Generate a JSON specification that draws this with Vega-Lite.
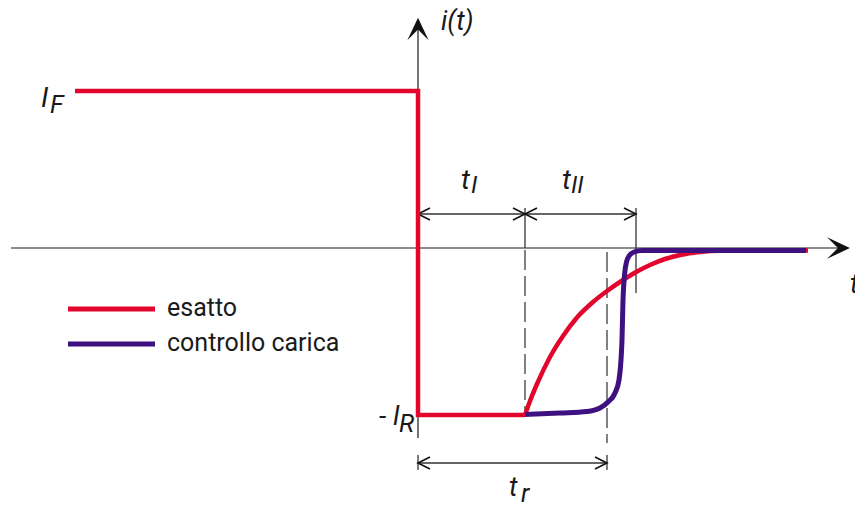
{
  "$schema": "https://vega.github.io/schema/vega-lite/v6.json",
  "width": 855,
  "height": 506,
  "autosize": {"type": "none"},
  "padding": 0,
  "background": "white",
  "config": {"view": {"stroke": null}},
  "datasets": {
    "axisLines": [
      {"t": -4.07, "i": 0, "t2": 4.27, "i2": 0},
      {"t": 0, "i": -1.9, "t2": 0, "i2": 2.2}
    ],
    "axisHeads": [
      {"axis": "x", "t": 4.205, "i": 0},
      {"axis": "y", "t": 0, "i": 2.19}
    ],
    "dimLines": [
      {"t": 0, "i": 0.34, "t2": 2.18, "i2": 0.34},
      {"t": 0, "i": -2.15, "t2": 1.89, "i2": -2.15},
      {"t": 1.07, "i": 0.4, "t2": 1.07, "i2": 0},
      {"t": 2.18, "i": 0.4, "t2": 2.18, "i2": -0.45},
      {"t": 0, "i": -2.07, "t2": 0, "i2": -2.22},
      {"t": 1.89, "i": -2.07, "t2": 1.89, "i2": -2.22}
    ],
    "dashLines": [
      {"t": 1.07, "i": -0.02, "t2": 1.07, "i2": -1.65},
      {"t": 1.89, "i": -0.04, "t2": 1.89, "i2": -1.95}
    ],
    "dimHeads": [
      {"dir": "left", "t": 0, "i": 0.34},
      {"dir": "right", "t": 1.07, "i": 0.34},
      {"dir": "left", "t": 1.07, "i": 0.34},
      {"dir": "right", "t": 2.18, "i": 0.34},
      {"dir": "left", "t": 0, "i": -2.15},
      {"dir": "right", "t": 1.89, "i": -2.15}
    ],
    "step": [
      {"series": "esatto", "order": 1, "t": -3.43, "i": 1.57},
      {"series": "esatto", "order": 2, "t": 0, "i": 1.57},
      {"series": "esatto", "order": 3, "t": 0, "i": -1.67},
      {"series": "esatto", "order": 4, "t": 1.07, "i": -1.67}
    ],
    "curves": [
      {"series": "esatto", "order": 1, "t": 1.07, "i": -1.67},
      {"series": "esatto", "order": 2, "t": 1.12, "i": -1.53},
      {"series": "esatto", "order": 3, "t": 1.19, "i": -1.36},
      {"series": "esatto", "order": 4, "t": 1.32, "i": -1.09},
      {"series": "esatto", "order": 5, "t": 1.45, "i": -0.88},
      {"series": "esatto", "order": 6, "t": 1.59, "i": -0.695},
      {"series": "esatto", "order": 7, "t": 1.75, "i": -0.54},
      {"series": "esatto", "order": 8, "t": 1.89, "i": -0.43},
      {"series": "esatto", "order": 9, "t": 2.05, "i": -0.32},
      {"series": "esatto", "order": 10, "t": 2.19, "i": -0.235},
      {"series": "esatto", "order": 11, "t": 2.32, "i": -0.17},
      {"series": "esatto", "order": 12, "t": 2.47, "i": -0.11},
      {"series": "esatto", "order": 13, "t": 2.62, "i": -0.07},
      {"series": "esatto", "order": 14, "t": 2.82, "i": -0.04},
      {"series": "esatto", "order": 15, "t": 3.02, "i": -0.028},
      {"series": "esatto", "order": 16, "t": 3.9, "i": -0.025},
      {"series": "controllo carica", "order": 1, "t": 1.07, "i": -1.665},
      {"series": "controllo carica", "order": 2, "t": 1.42, "i": -1.65},
      {"series": "controllo carica", "order": 3, "t": 1.69, "i": -1.635},
      {"series": "controllo carica", "order": 4, "t": 1.82, "i": -1.6},
      {"series": "controllo carica", "order": 5, "t": 1.9, "i": -1.54},
      {"series": "controllo carica", "order": 6, "t": 1.97, "i": -1.45},
      {"series": "controllo carica", "order": 7, "t": 2.01, "i": -1.32},
      {"series": "controllo carica", "order": 8, "t": 2.03, "i": -1.12},
      {"series": "controllo carica", "order": 9, "t": 2.04, "i": -0.92},
      {"series": "controllo carica", "order": 10, "t": 2.05, "i": -0.52},
      {"series": "controllo carica", "order": 11, "t": 2.065, "i": -0.27},
      {"series": "controllo carica", "order": 12, "t": 2.085, "i": -0.14},
      {"series": "controllo carica", "order": 13, "t": 2.11, "i": -0.08},
      {"series": "controllo carica", "order": 14, "t": 2.16, "i": -0.04},
      {"series": "controllo carica", "order": 15, "t": 2.24, "i": -0.025},
      {"series": "controllo carica", "order": 16, "t": 3.88, "i": -0.025}
    ],
    "legendRows": [
      {"series": "esatto", "t": -3.5, "t2": -2.63, "i": -0.61, "tl": -2.51, "il": -0.68},
      {"series": "controllo carica", "t": -3.5, "t2": -2.63, "i": -0.96, "tl": -2.51, "il": -1.03}
    ],
    "labels": [
      {"label": "I", "role": "main", "t": -3.77, "i": 1.41},
      {"label": "F", "role": "sub", "t": -3.68, "i": 1.35},
      {"label": "i(t)", "role": "medium", "t": 0.23, "i": 2.18},
      {"label": "t", "role": "main", "t": 0.43, "i": 0.59},
      {"label": "I", "role": "tiny", "t": 0.53, "i": 0.55},
      {"label": "t", "role": "main", "t": 1.44, "i": 0.59},
      {"label": "II", "role": "tiny", "t": 1.53, "i": 0.55},
      {"label": "- I", "role": "medium", "t": -0.39, "i": -1.77},
      {"label": "R", "role": "sub", "t": -0.19, "i": -1.84},
      {"label": "t", "role": "medium", "t": 0.91, "i": -2.48},
      {"label": "r", "role": "sub", "t": 1.03, "i": -2.54},
      {"label": "t", "role": "medium", "t": 4.32, "i": -0.45}
    ]
  },
  "encoding": {
    "x": {"field": "t", "type": "quantitative", "scale": {"domain": [-4.18, 4.37], "nice": false, "zero": false}, "axis": null},
    "y": {"field": "i", "type": "quantitative", "scale": {"domain": [-2.58, 2.48], "nice": false, "zero": false}, "axis": null}
  },
  "layer": [
    {
      "data": {"name": "axisLines"},
      "mark": {"type": "rule", "color": "#1a1a1a", "strokeWidth": 1.2},
      "encoding": {"x2": {"field": "t2"}, "y2": {"field": "i2"}}
    },
    {
      "data": {"name": "axisHeads"},
      "transform": [{"filter": "datum.axis === 'x'"}],
      "mark": {"type": "point", "shape": "M1,0 L-1,-0.95 L-0.05,0 L-1,0.95 Z", "filled": true, "color": "#111111", "opacity": 1, "size": 520, "angle": 0},
      "encoding": {}
    },
    {
      "data": {"name": "axisHeads"},
      "transform": [{"filter": "datum.axis === 'y'"}],
      "mark": {"type": "point", "shape": "M1,0 L-1,-0.95 L-0.05,0 L-1,0.95 Z", "filled": true, "color": "#111111", "opacity": 1, "size": 500, "angle": 270},
      "encoding": {}
    },
    {
      "data": {"name": "dimLines"},
      "mark": {"type": "rule", "color": "#333333", "strokeWidth": 1.3},
      "encoding": {"x2": {"field": "t2"}, "y2": {"field": "i2"}}
    },
    {
      "data": {"name": "dashLines"},
      "mark": {"type": "rule", "color": "#1a1a1a", "strokeWidth": 1.1, "strokeDash": [20, 6]},
      "encoding": {"x2": {"field": "t2"}, "y2": {"field": "i2"}}
    },
    {
      "data": {"name": "dimHeads"},
      "transform": [{"filter": "datum.dir === 'right'"}],
      "mark": {"type": "point", "shape": "M-1,-0.5 L0,0 L-1,0.5", "filled": false, "color": "#111111", "opacity": 1, "strokeWidth": 1.6, "size": 576, "angle": 0},
      "encoding": {}
    },
    {
      "data": {"name": "dimHeads"},
      "transform": [{"filter": "datum.dir === 'left'"}],
      "mark": {"type": "point", "shape": "M-1,-0.5 L0,0 L-1,0.5", "filled": false, "color": "#111111", "opacity": 1, "strokeWidth": 1.6, "size": 576, "angle": 180},
      "encoding": {}
    },
    {
      "data": {"name": "step"},
      "mark": {"type": "line", "strokeWidth": 4.5, "strokeJoin": "miter", "strokeCap": "butt"},
      "encoding": {
        "order": {"field": "order", "type": "quantitative"},
        "color": {"field": "series", "type": "nominal", "scale": {"domain": ["esatto", "controllo carica"], "range": ["#e2062c", "#3f1080"]}, "legend": null}
      }
    },
    {
      "data": {"name": "curves"},
      "transform": [{"filter": "datum.series === 'esatto'"}],
      "mark": {"type": "line", "strokeWidth": 4.5, "interpolate": "monotone", "strokeCap": "butt"},
      "encoding": {
        "order": {"field": "order", "type": "quantitative"},
        "color": {"field": "series", "type": "nominal", "scale": {"domain": ["esatto", "controllo carica"], "range": ["#e2062c", "#3f1080"]}, "legend": null}
      }
    },
    {
      "data": {"name": "curves"},
      "transform": [{"filter": "datum.series === 'controllo carica'"}],
      "mark": {"type": "line", "strokeWidth": 5, "interpolate": "monotone", "strokeCap": "butt"},
      "encoding": {
        "order": {"field": "order", "type": "quantitative"},
        "color": {"field": "series", "type": "nominal", "scale": {"domain": ["esatto", "controllo carica"], "range": ["#e2062c", "#3f1080"]}, "legend": null}
      }
    },
    {
      "data": {"name": "legendRows"},
      "mark": {"type": "rule", "strokeWidth": 5},
      "encoding": {
        "x2": {"field": "t2"},
        "color": {"field": "series", "type": "nominal", "scale": {"domain": ["esatto", "controllo carica"], "range": ["#e2062c", "#3f1080"]}, "legend": null}
      }
    },
    {
      "data": {"name": "legendRows"},
      "mark": {"type": "text", "font": "Roboto", "fontSize": 25, "align": "left", "baseline": "alphabetic", "color": "#1a1a1a"},
      "encoding": {
        "x": {"field": "tl", "type": "quantitative"},
        "y": {"field": "il", "type": "quantitative"},
        "text": {"field": "series"}
      }
    },
    {
      "data": {"name": "labels"},
      "mark": {"type": "text", "font": "Roboto", "fontStyle": "italic", "align": "left", "baseline": "alphabetic", "color": "#1a1a1a"},
      "encoding": {
        "text": {"field": "label"},
        "size": {"field": "role", "type": "ordinal", "scale": {"domain": ["main", "medium", "sub", "tiny"], "range": [28, 24, 17, 12]}, "legend": null}
      }
    }
  ]
}
